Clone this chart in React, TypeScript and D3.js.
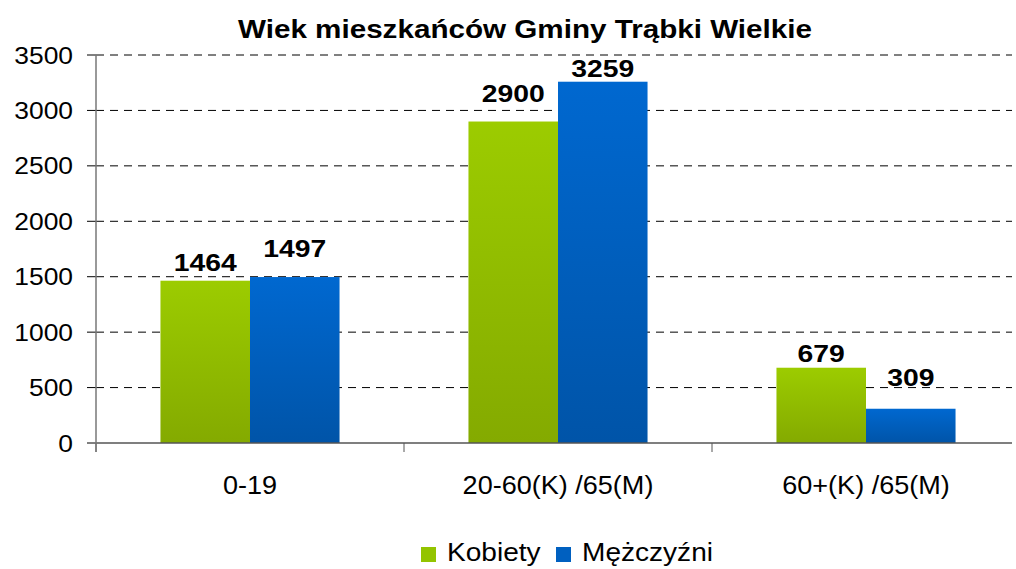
import React from 'react';
import * as d3 from 'd3';

const categories = ['0-19', '20-60(K) /65(M)', '60+(K) /65(M)'];
const seriesNames = ['Kobiety', 'Mężczyźni'];
const kobiety = [1464, 2900, 679];
const mezczyzni = [1497, 3259, 309];
const yTicks = [0, 500, 1000, 1500, 2000, 2500, 3000, 3500];

// gap between bar top and its label (labels were nudged by hand in the original)
const labelGap = [[10, 20, 6], [20, 5, 23]];

const width = 1016;
const height = 569;
const margin = { top: 55, right: -4, bottom: 126, left: 96 };
const font = 'Liberation Sans, Arial, sans-serif';

// the original's text is a bit wider than Liberation Sans, so stretch it sideways
function SText({ x, y, sx = 1.1, anchor = 'start', size, bold = false, children }: any) {
    return (
        <text transform={`translate(${x},${y}) scale(${sx},1)`} textAnchor={anchor} fontSize={size}
            fontWeight={bold ? 'bold' : 'normal'} fill="#000">
            {children}
        </text>
    );
}

export default function App() {
    const x = d3.scaleBand().domain(categories).range([margin.left, width - margin.right]);
    const x1 = d3.scaleBand().domain(seriesNames).range([0, x.bandwidth()]).paddingOuter(0.72);
    const y = d3.scaleLinear().domain([0, 3500]).range([height - margin.bottom, margin.top]);
    const values = [kobiety, mezczyzni];
    const fills = ['url(#gGreen)', 'url(#gBlue)'];
    const swatch = ['#93c400', '#0060c0'];
    const y0 = y(0);

    return (
        <svg width={width} height={height} style={{ position: 'absolute', left: 0, top: 0, background: '#fff' }} fontFamily={font}>
            <defs>
                <linearGradient id="gGreen" x1="0" y1="0" x2="0" y2="1">
                    <stop offset="0%" stopColor="#9ccc00" />
                    <stop offset="100%" stopColor="#84aa00" />
                </linearGradient>
                <linearGradient id="gBlue" x1="0" y1="0" x2="0" y2="1">
                    <stop offset="0%" stopColor="#0068d0" />
                    <stop offset="100%" stopColor="#0054a8" />
                </linearGradient>
            </defs>
            <SText x={525} y={38} anchor="middle" size={26} bold sx={1.14}>
                Wiek mieszkańców Gminy Trąbki Wielkie
            </SText>
            {yTicks.map(t => (
                <g key={t}>
                    {t > 0 && (
                        <line x1={margin.left} x2={1012} y1={y(t)} y2={y(t)} stroke="#000" strokeWidth={1} strokeDasharray="8,6" />
                    )}
                    <line x1={margin.left - 9} x2={margin.left} y1={y(t)} y2={y(t)} stroke="#000" />
                    <SText x={73} y={y(t) + 8.5} anchor="end" size={24}>{t}</SText>
                </g>
            ))}
            {categories.map((c, ci) => (
                <g key={c}>
                    {seriesNames.map((s, si) => {
                        const v = values[si][ci];
                        const bx = (x(c) as number) + (x1(s) as number);
                        return (
                            <g key={s}>
                                <rect x={bx} y={y(v)} width={x1.bandwidth()} height={y0 - y(v)} fill={fills[si]} />
                                <SText x={bx + x1.bandwidth() / 2} y={y(v) - labelGap[si][ci]} anchor="middle" size={24} bold sx={1.18}>{v}</SText>
                            </g>
                        );
                    })}
                    <SText x={(x(c) as number) + x.bandwidth() / 2} y={494} anchor="middle" size={26} sx={1.04}>{c}</SText>
                </g>
            ))}
            {[...categories.map(c => x(c) as number), width - margin.right].map((tx, i) => (
                <line key={i} x1={tx} x2={tx} y1={y0} y2={y0 + 9} stroke="#555" />
            ))}
            <line x1={margin.left} x2={1012} y1={y0} y2={y0} stroke="#555" strokeWidth={1.5} />
            <line x1={margin.left} x2={margin.left} y1={margin.top} y2={y0 + 9} stroke="#777" strokeWidth={1.5} />
            <g>
                {seriesNames.map((s, i) => {
                    const lx = [421, 556][i];
                    return (
                        <g key={s}>
                            <rect x={lx} y={547} width={15} height={15} fill={swatch[i]} />
                            <SText x={lx + 26} y={561} size={26} sx={1.08}>{s}</SText>
                        </g>
                    );
                })}
            </g>
        </svg>
    );
}
